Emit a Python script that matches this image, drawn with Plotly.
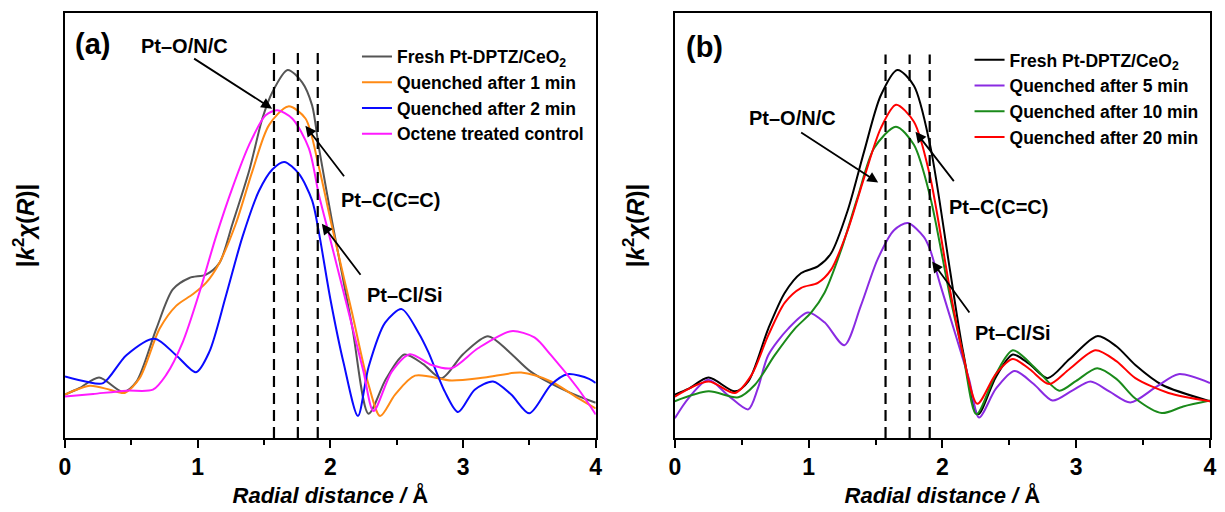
import plotly.graph_objects as go

FONT = "Liberation Sans, Arial, sans-serif"

# ---------------- Panel (a) data ----------------
a_fresh_x = [0, 0.11, 0.257, 0.4375, 0.5375, 0.688, 0.8125, 0.9375, 1.063, 1.163, 1.2625, 1.3875, 1.4875,
             1.5625, 1.678, 1.7875, 1.8625, 1.913, 2.013, 2.163, 2.288, 2.42, 2.558, 2.7, 2.838, 3.0, 3.188,
             3.35, 3.51, 3.785, 4.0]
a_fresh_y = [0.44, 0.507, 0.613, 0.467, 0.57, 1.107, 1.507, 1.623, 1.657, 1.773, 2.173, 2.707, 3.24,
             3.507, 3.733, 3.607, 3.373, 2.95, 2.197, 1.14, 0.247, 0.6, 0.847, 0.75, 0.607, 0.85, 1.033,
             0.87, 0.673, 0.473, 0.357]

a_q1_x = [0, 0.1875, 0.3375, 0.45, 0.5625, 0.7125, 0.8375, 0.9625, 1.0625, 1.1625, 1.2875, 1.4125, 1.5375,
          1.683, 1.8125, 1.913, 2.013, 2.163, 2.288, 2.375, 2.488, 2.638, 2.913, 3.163, 3.438, 3.663, 3.863, 4.0]
a_q1_y = [0.44, 0.53, 0.49, 0.457, 0.607, 1.107, 1.34, 1.457, 1.573, 1.773, 2.173, 2.707, 3.173,
          3.363, 3.24, 2.75, 2.14, 1.273, 0.54, 0.223, 0.44, 0.633, 0.583, 0.613, 0.663, 0.573, 0.407, 0.30]

a_q2_x = [0, 0.1625, 0.2875, 0.4625, 0.675, 0.8375, 0.9875, 1.0875, 1.2125, 1.3375, 1.4625, 1.5625, 1.6525,
          1.7625, 1.8625, 1.913, 2.0, 2.1, 2.208, 2.288, 2.413, 2.538, 2.663, 2.738, 2.863, 2.963, 3.088,
          3.226, 3.363, 3.5, 3.663, 3.788, 3.95, 4.0]
a_q2_y = [0.623, 0.57, 0.557, 0.84, 1.007, 0.84, 0.667, 0.873, 1.44, 2.04, 2.507, 2.723, 2.80,
          2.68, 2.41, 2.09, 1.41, 0.76, 0.223, 0.72, 1.17, 1.307, 1.07, 0.873, 0.47, 0.263, 0.49,
          0.573, 0.44, 0.25, 0.54, 0.647, 0.60, 0.557]

a_oct_x = [0, 0.2125, 0.4625, 0.6625, 0.7625, 0.8875, 1.0125, 1.1375, 1.2625, 1.3875, 1.5125, 1.6, 1.7125,
           1.8375, 1.913, 2.0, 2.15, 2.25, 2.325, 2.463, 2.6, 2.763, 2.913, 3.113, 3.363, 3.538, 3.663,
           3.863, 4.0]
a_oct_y = [0.42, 0.447, 0.48, 0.49, 0.64, 0.973, 1.473, 2.04, 2.54, 2.973, 3.273, 3.323, 3.24,
           2.94, 2.47, 2.01, 1.21, 0.673, 0.273, 0.673, 0.85, 0.74, 0.707, 0.91, 1.083, 1.02, 0.84,
           0.507, 0.24]

# ---------------- Panel (b) data ----------------
b_fresh_x = [0, 0.104, 0.252, 0.45, 0.549, 0.698, 0.822, 0.945, 1.069, 1.168, 1.292, 1.415, 1.539, 1.663,
             1.787, 1.908, 2.056, 2.155, 2.266, 2.4, 2.526, 2.65, 2.786, 2.95, 3.157, 3.3, 3.442, 3.64, 4.0]
b_fresh_y = [0.44, 0.50, 0.613, 0.473, 0.573, 1.107, 1.473, 1.673, 1.74, 1.873, 2.307, 2.907, 3.473, 3.733,
             3.573, 2.97, 1.707, 0.873, 0.24, 0.62, 0.847, 0.75, 0.607, 0.8, 1.033, 0.93, 0.74, 0.54, 0.373]

b_q5_x = [0, 0.1, 0.25, 0.40, 0.549, 0.62, 0.698, 0.846, 0.995, 1.119, 1.267, 1.39, 1.514, 1.638, 1.742,
          1.861, 1.908, 1.985, 2.1, 2.2, 2.274, 2.4, 2.539, 2.68, 2.823, 2.97, 3.107, 3.25, 3.405, 3.6,
          3.764, 4.0]
b_q5_y = [0.20, 0.40, 0.59, 0.43, 0.29, 0.50, 0.84, 1.107, 1.273, 1.173, 0.94, 1.34, 1.807, 2.107, 2.18,
          2.04, 1.91, 1.55, 1.04, 0.59, 0.207, 0.5, 0.68, 0.55, 0.38, 0.48, 0.573, 0.47, 0.36, 0.52,
          0.647, 0.557]

b_q10_x = [0, 0.252, 0.475, 0.599, 0.747, 0.896, 1.02, 1.119, 1.243, 1.366, 1.49, 1.653, 1.787, 1.908,
           2.056, 2.155, 2.254, 2.4, 2.526, 2.7, 2.873, 3.0, 3.157, 3.3, 3.442, 3.64, 3.8, 4.0]
b_q10_y = [0.373, 0.473, 0.413, 0.54, 0.84, 1.107, 1.273, 1.473, 1.907, 2.44, 2.94, 3.157, 2.973, 2.45,
           1.44, 0.84, 0.24, 0.65, 0.89, 0.7, 0.48, 0.58, 0.707, 0.6, 0.40, 0.253, 0.32, 0.38]

b_q20_x = [0, 0.252, 0.45, 0.574, 0.698, 0.822, 0.945, 1.069, 1.168, 1.292, 1.415, 1.539, 1.653, 1.787,
           1.908, 2.056, 2.155, 2.261, 2.4, 2.526, 2.65, 2.798, 2.95, 3.144, 3.3, 3.442, 3.69, 4.0]
b_q20_y = [0.42, 0.573, 0.457, 0.64, 1.04, 1.373, 1.523, 1.573, 1.707, 2.107, 2.64, 3.14, 3.38, 3.207,
           2.65, 1.507, 0.84, 0.347, 0.65, 0.80, 0.7, 0.547, 0.7, 0.89, 0.78, 0.607, 0.457, 0.373]

# reference bond distances (dashed lines)
dash_positions = [1.575, 1.755, 1.905]
dash_top_a = 3.94
dash_top_b = 3.89

series_a = [
    ("Fresh Pt-DPTZ/CeO<sub>2</sub>", a_fresh_x, a_fresh_y, "#555555"),
    ("Quenched after 1 min", a_q1_x, a_q1_y, "#ff8a14"),
    ("Quenched after 2 min", a_q2_x, a_q2_y, "#0a0aff"),
    ("Octene treated control", a_oct_x, a_oct_y, "#ff1aff"),
]
series_b = [
    ("Fresh Pt-DPTZ/CeO<sub>2</sub>", b_fresh_x, b_fresh_y, "#000000"),
    ("Quenched after 5 min", b_q5_x, b_q5_y, "#8a2be2"),
    ("Quenched after 10 min", b_q10_x, b_q10_y, "#1a8a1a"),
    ("Quenched after 20 min", b_q20_x, b_q20_y, "#ff0000"),
]

fig = go.Figure()
for name, xs, ys, col in series_a:
    fig.add_trace(go.Scatter(x=xs, y=ys, mode="lines", name=name, xaxis="x", yaxis="y",
                             line=dict(color=col, width=2, shape="spline", smoothing=0.8),
                             legend="legend"))
for name, xs, ys, col in series_b:
    fig.add_trace(go.Scatter(x=xs, y=ys, mode="lines", name=name, xaxis="x2", yaxis="y2",
                             line=dict(color=col, width=2, shape="spline", smoothing=0.8),
                             legend="legend2"))

shapes = []
for xr, yr, top in (("x", "y", dash_top_a), ("x2", "y2", dash_top_b)):
    for p in dash_positions:
        shapes.append(dict(type="line", xref=xr, yref=yr, x0=p, x1=p, y0=0, y1=top,
                           line=dict(color="black", width=2.2, dash="11px,6px")))

ann = []
def label(text, x, y, xr, yr, size=20):
    ann.append(dict(text="<b>" + text + "</b>", x=x, y=y, xref=xr, yref=yr, showarrow=False,
                    font=dict(family=FONT, size=size, color="black")))

def arrow(x0, y0, x1, y1, xr, yr):
    ann.append(dict(text="", x=x1, y=y1, ax=x0, ay=y0, xref=xr, yref=yr, axref=xr, ayref=yr,
                    showarrow=True, arrowhead=2, arrowsize=1.2, arrowwidth=1.8, arrowcolor="black",
                    standoff=0, startstandoff=0))

# panel (a)
label("(a)", 0.21, 4.0, "x", "y", size=29)
label("Pt–O/N/C", 0.90, 3.98, "x", "y")
arrow(0.962, 3.857, 1.561, 3.34, "x", "y")
label("Pt–C(C=C)", 2.451, 2.41, "x", "y")
arrow(2.112, 2.64, 1.812, 3.167, "x", "y")
label("Pt–Cl/Si", 2.564, 1.45, "x", "y")
arrow(2.236, 1.64, 1.936, 2.173, "x", "y")
# panel (b)
label("(b)", 0.223, 3.97, "x2", "y2", size=29)
label("Pt–O/N/C", 0.876, 3.25, "x2", "y2")
arrow(0.933, 3.107, 1.52, 2.59, "x2", "y2")
label("Pt–C(C=C)", 2.42, 2.34, "x2", "y2")
arrow(2.094, 2.59, 1.799, 3.107, "x2", "y2")
label("Pt–Cl/Si", 2.524, 1.06, "x2", "y2")
arrow(2.21, 1.257, 1.923, 1.79, "x2", "y2")

xaxis_common = dict(range=[0, 4], tickvals=[0, 1, 2, 3, 4], ticks="outside", ticklen=8, tickwidth=1.6,
                    tickcolor="black", showline=True, linecolor="black", linewidth=1.6, mirror=True,
                    showgrid=False, zeroline=False,
                    minor=dict(tickvals=[0.5, 1.5, 2.5, 3.5], ticks="outside", ticklen=5, tickwidth=1.6,
                               tickcolor="black"),
                    tickfont=dict(family=FONT, size=23, color="black", weight="bold"),
                    title=dict(text="<i>Radial distance /</i> Å", standoff=8,
                               font=dict(family=FONT, size=22, color="black", weight="bold")))
yaxis_common = dict(range=[0, 4.31], showticklabels=False, ticks="", showline=True, linecolor="black",
                    linewidth=1.6, mirror=True, showgrid=False, zeroline=False,
                    title=dict(text="|<i>k</i><sup>2</sup><i>χ</i>(<i>R</i>)|", standoff=22,
                               font=dict(family=FONT, size=24, color="black", weight="bold")))

legend_common = dict(xanchor="left", yanchor="top", bgcolor="rgba(0,0,0,0)", borderwidth=0,
                     font=dict(family=FONT, size=17.5, color="black", weight="bold"),
                     tracegroupgap=0, itemwidth=30)

fig.update_layout(
    width=1225, height=512,
    margin=dict(l=65, r=8, t=13, b=68),
    paper_bgcolor="white", plot_bgcolor="white",
    xaxis=dict(domain=[0, 0.4635], anchor="y", **xaxis_common),
    yaxis=dict(domain=[0, 1], anchor="x", **yaxis_common),
    xaxis2=dict(domain=[0.5326, 1], anchor="y2", **xaxis_common),
    yaxis2=dict(domain=[0, 1], anchor="x2", **yaxis_common),
    legend=dict(x=0.255, y=0.94, **legend_common),
    legend2=dict(x=0.79, y=0.932, **legend_common),
    shapes=shapes,
    annotations=ann,
)

fig.write_html("out.html", config={"displayModeBar": False},
               post_script="document.body.style.margin='0';document.body.style.overflow='hidden';")
